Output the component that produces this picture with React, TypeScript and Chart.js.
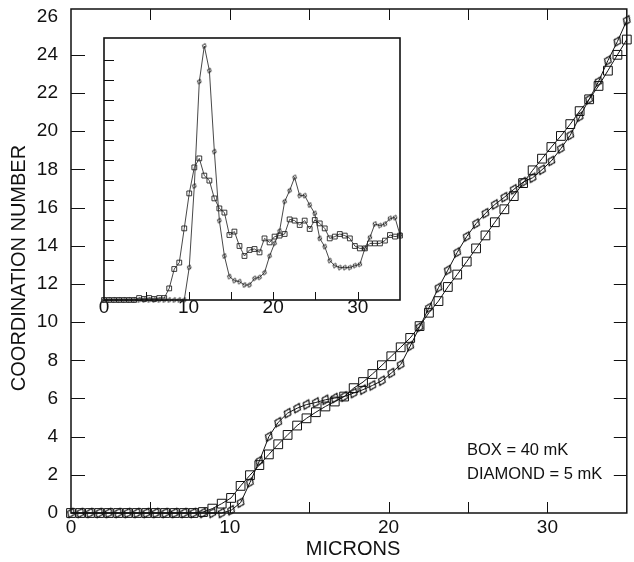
import React, { useEffect, useRef } from "react";
import { Chart, registerables } from "chart.js";

Chart.register(...registerables);

// ---------------- data ----------------
const X_MICRONS = [
  0, 0.59, 1.19, 1.78, 2.37, 2.97, 3.56, 4.15, 4.75, 5.34,
  5.93, 6.53, 7.12, 7.71, 8.31, 8.9, 9.49, 10.08, 10.68, 11.27,
  11.86, 12.46, 13.05, 13.64, 14.24, 14.83, 15.42, 16.02, 16.61, 17.2,
  17.8, 18.39, 18.98, 19.58, 20.17, 20.76, 21.36, 21.95, 22.54, 23.14,
  23.73, 24.32, 24.92, 25.51, 26.1, 26.69, 27.29, 27.88, 28.47, 29.07,
  29.66, 30.25, 30.85, 31.44, 32.03, 32.63, 33.22, 33.81, 34.41, 35.0,
];

// main plot: coordination number
const BOX_40MK = [
  0, 0, 0, 0, 0, 0, 0, 0, 0, 0,
  0, 0, 0, 0, 0.05, 0.23, 0.49, 0.79, 1.42, 1.98,
  2.51, 3.07, 3.6, 4.09, 4.58, 4.96, 5.28, 5.58, 5.84, 6.1,
  6.54, 6.86, 7.28, 7.74, 8.21, 8.68, 9.17, 9.79, 10.49, 11.1,
  11.84, 12.49, 13.17, 13.86, 14.54, 15.23, 15.91, 16.6, 17.28, 17.95,
  18.56, 19.17, 19.75, 20.37, 21.05, 21.67, 22.37, 23.17, 24.0, 24.8,
];
const DIAMOND_5MK = [
  0, 0, 0, 0, 0, 0, 0, 0, 0, 0,
  0, 0, 0, 0, 0, 0, 0, 0.14, 0.54, 1.6,
  2.72, 4.0, 4.75, 5.23, 5.49, 5.68, 5.79, 5.93, 6.02, 6.1,
  6.28, 6.46, 6.68, 6.93, 7.33, 7.77, 8.74, 9.74, 10.75, 11.8,
  12.72, 13.65, 14.48, 15.16, 15.7, 16.16, 16.54, 16.95, 17.33, 17.56,
  17.98, 18.44, 19.09, 19.79, 20.75, 21.67, 22.6, 23.7, 24.7, 25.8,
];

// inset (arbitrary units, one tick per unit)
const INSET_BOX = [
  0, 0, 0, 0, 0, 0, 0, 0.1, 0.05, 0.1,
  0.05, 0.1, 0.1, 0.58, 1.55, 1.87, 3.58, 5.33, 6.63, 7.08,
  6.22, 5.97, 5.08, 4.58, 4.37, 3.25, 3.42, 2.7, 2.2, 2.5,
  2.55, 2.38, 3.08, 2.88, 3.17, 3.22, 3.3, 4.03, 3.97, 3.75,
  3.97, 3.55, 4.0, 3.83, 3.58, 3.08, 3.17, 3.3, 3.22, 3.08,
  2.7, 2.58, 2.58, 2.83, 2.83, 2.83, 2.97, 3.25, 3.17, 3.22,
];
const INSET_DIAMOND = [
  0, 0, 0, 0, 0, 0, 0, 0, 0, 0,
  0, 0, 0, 0, 0, 0, 0, 1.63, 5.7, 10.92,
  12.7, 11.47, 7.42, 3.97, 2.2, 1.17, 0.97, 0.92, 0.75, 0.75,
  1.08, 1.13, 1.37, 2.2, 2.83, 3.45, 4.92, 5.47, 6.13, 5.22,
  5.22, 4.75, 4.33, 3.08, 2.67, 1.97, 1.72, 1.62, 1.62, 1.62,
  1.72, 1.78, 2.58, 3.13, 3.8, 3.72, 3.8, 4.08, 4.12, 3.25,
];

const MAIN_Y_LABELS = [0, 2, 4, 6, 8, 10, 12, 14, 16, 18, 20, 22, 24, 26];
const MAIN_Y_MARKS = [2, 4, 6, 8, 10, 12, 14, 16, 18, 20, 22, 24];
const MAIN_X_LABELS = [0, 10, 20, 30];
const MAIN_X_MARKS = [5, 10, 15, 20, 25, 30];
const INSET_X_LABELS = [0, 10, 20, 30];
const INSET_X_MARKS = [5, 10, 15, 20, 25, 30];
const INSET_Y_MARKS = [1, 2, 3, 4, 5, 6, 7, 8, 9, 10, 11, 12];

const Y_TITLE = "COORDINATION NUMBER";
const X_TITLE = "MICRONS";
const LEGEND_BOX = "BOX = 40 mK";
const LEGEND_DIAMOND = "DIAMOND = 5 mK";

// ---------------- helpers ----------------
const FONT = "'Liberation Sans', Arial, Helvetica, sans-serif";
const INK = "#111";

function makeDiamond(hw: number, hh: number, lw: number, color: string) {
  const c = document.createElement("canvas");
  const w = Math.ceil(hw * 2 + lw * 2 + 2);
  const h = Math.ceil(hh * 2 + lw * 2 + 2);
  c.width = w;
  c.height = h;
  const g = c.getContext("2d")!;
  g.strokeStyle = color;
  g.lineWidth = lw;
  g.beginPath();
  g.moveTo(w / 2, h / 2 - hh);
  g.lineTo(w / 2 + hw, h / 2);
  g.lineTo(w / 2, h / 2 + hh);
  g.lineTo(w / 2 - hw, h / 2);
  g.closePath();
  g.stroke();
  return c;
}

const pts = (ys: number[]) => X_MICRONS.map((x, i) => ({ x, y: ys[i] }));

type FrameCfg = {
  lineWidth: number;
  bottomMarks: number[];
  bottomLen: number;
  topMarks?: number[];
  topLen?: number;
  leftMarks: number[];
  leftLen: number;
  rightMarks?: number[];
  rightLen?: number;
  texts?: (ctx: CanvasRenderingContext2D) => void;
};

function framePlugin(id: string, cfg: FrameCfg) {
  return {
    id,
    afterDraw(chart: any) {
      const { ctx, chartArea: a, scales } = chart;
      const xs = scales.x;
      const ys = scales.y;
      ctx.save();
      ctx.strokeStyle = INK;
      ctx.lineWidth = cfg.lineWidth;
      ctx.strokeRect(a.left, a.top, a.right - a.left, a.bottom - a.top);
      ctx.lineWidth = 1;
      ctx.beginPath();
      for (const v of cfg.bottomMarks) {
        const px = Math.round(xs.getPixelForValue(v)) + 0.5;
        ctx.moveTo(px, a.bottom);
        ctx.lineTo(px, a.bottom - cfg.bottomLen);
      }
      for (const v of cfg.topMarks || []) {
        const px = Math.round(xs.getPixelForValue(v)) + 0.5;
        ctx.moveTo(px, a.top);
        ctx.lineTo(px, a.top + (cfg.topLen || 0));
      }
      for (const v of cfg.leftMarks) {
        const py = Math.round(ys.getPixelForValue(v)) + 0.5;
        ctx.moveTo(a.left, py);
        ctx.lineTo(a.left + cfg.leftLen, py);
      }
      for (const v of cfg.rightMarks || []) {
        const py = Math.round(ys.getPixelForValue(v)) + 0.5;
        ctx.moveTo(a.right, py);
        ctx.lineTo(a.right - (cfg.rightLen || 0), py);
      }
      ctx.stroke();
      if (cfg.texts) cfg.texts(ctx);
      ctx.restore();
    },
  };
}

export default function App() {
  const mainRef = useRef<HTMLCanvasElement>(null);
  const insetRef = useRef<HTMLCanvasElement>(null);

  useEffect(() => {
    const diamondBig = makeDiamond(3.6, 5.2, 1.25, INK);
    const diamondSmall = makeDiamond(2.0, 2.6, 1, "#222");

    const mainTexts = (ctx: CanvasRenderingContext2D) => {
      ctx.fillStyle = INK;
      ctx.font = `20px ${FONT}`;
      ctx.textAlign = "center";
      ctx.textBaseline = "middle";
      ctx.fillText(X_TITLE, 353, 549);
      ctx.save();
      ctx.translate(19, 268);
      ctx.rotate(-Math.PI / 2);
      ctx.fillText(Y_TITLE, 0, 0);
      ctx.restore();
      ctx.textAlign = "left";
      ctx.font = `16.5px ${FONT}`;
      ctx.fillText(LEGEND_BOX, 467, 450);
      ctx.fillText(LEGEND_DIAMOND, 467, 474);
    };

    const main = new Chart(mainRef.current!, {
      type: "line",
      data: {
        datasets: [
          {
            label: LEGEND_BOX,
            data: pts(BOX_40MK),
            borderColor: INK,
            borderWidth: 1,
            pointStyle: "rect",
            pointRadius: 6.2,
            pointBorderColor: INK,
            pointBackgroundColor: "rgba(0,0,0,0)",
            pointBorderWidth: 1,
            tension: 0,
            clip: false as any,
          },
          {
            label: LEGEND_DIAMOND,
            data: pts(DIAMOND_5MK),
            borderColor: INK,
            borderWidth: 1,
            pointStyle: diamondBig as any,
            pointRotation: 25,
            pointRadius: 5,
            pointBorderColor: INK,
            pointBackgroundColor: "rgba(0,0,0,0)",
            tension: 0,
            clip: false as any,
          },
        ],
      },
      options: {
        responsive: false,
        animation: false,
        events: [],
        layout: { padding: { top: 9, right: 0, left: 0, bottom: 0 } },
        plugins: { legend: { display: false }, tooltip: { enabled: false } },
        scales: {
          x: {
            type: "linear",
            min: 0,
            max: 35,
            grid: { display: false },
            border: { display: false },
            afterBuildTicks: (s: any) => {
              s.ticks = MAIN_X_LABELS.map((v) => ({ value: v }));
            },
            afterFit: (s: any) => {
              s.height = 49;
              s.paddingLeft = 0;
              s.paddingRight = 0;
            },
            ticks: {
              color: INK,
              font: { family: FONT, size: 19 },
              padding: -5,
              maxRotation: 0,
              autoSkip: false,
            },
          },
          y: {
            type: "linear",
            min: 0,
            max: 26.4,
            grid: { display: false },
            border: { display: false },
            afterBuildTicks: (s: any) => {
              s.ticks = MAIN_Y_LABELS.map((v) => ({ value: v }));
            },
            afterFit: (s: any) => {
              s.width = 71;
              s.paddingTop = 0;
              s.paddingBottom = 0;
            },
            ticks: {
              color: INK,
              font: { family: FONT, size: 19 },
              padding: 5,
              autoSkip: false,
            },
          },
        },
      },
      plugins: [
        framePlugin("mainFrame", {
          lineWidth: 1.5,
          bottomMarks: MAIN_X_MARKS,
          bottomLen: 11,
          topMarks: MAIN_X_MARKS,
          topLen: 11,
          leftMarks: MAIN_Y_MARKS,
          leftLen: 14,
          rightMarks: MAIN_Y_MARKS,
          rightLen: 13,
          texts: mainTexts,
        }),
      ],
    });

    const inset = new Chart(insetRef.current!, {
      type: "line",
      data: {
        datasets: [
          {
            label: "box",
            data: pts(INSET_BOX),
            borderColor: "#333",
            borderWidth: 0.9,
            pointStyle: "rect",
            pointRadius: 3.4,
            pointBorderColor: "#222",
            pointBackgroundColor: "rgba(0,0,0,0)",
            pointBorderWidth: 0.9,
            tension: 0,
            clip: false as any,
          },
          {
            label: "diamond",
            data: pts(INSET_DIAMOND),
            borderColor: "#333",
            borderWidth: 0.9,
            pointStyle: diamondSmall as any,
            pointRotation: 20,
            pointRadius: 3,
            tension: 0,
            clip: false as any,
          },
        ],
      },
      options: {
        responsive: false,
        animation: false,
        events: [],
        layout: { padding: { top: 10, right: 20, left: 16, bottom: 0 } },
        plugins: { legend: { display: false }, tooltip: { enabled: false } },
        scales: {
          x: {
            type: "linear",
            min: 0,
            max: 35,
            grid: { display: false },
            border: { display: false },
            afterBuildTicks: (s: any) => {
              s.ticks = INSET_X_LABELS.map((v) => ({ value: v }));
            },
            afterFit: (s: any) => {
              s.height = 28;
              s.paddingLeft = 0;
              s.paddingRight = 0;
            },
            ticks: {
              color: INK,
              font: { family: FONT, size: 19 },
              padding: -12,
              maxRotation: 0,
              autoSkip: false,
            },
          },
          y: {
            type: "linear",
            min: 0,
            max: 13.1,
            display: false,
          },
        },
      },
      plugins: [
        framePlugin("insetFrame", {
          lineWidth: 1.6,
          bottomMarks: INSET_X_MARKS,
          bottomLen: 8,
          leftMarks: INSET_Y_MARKS,
          leftLen: 10,
        }),
      ],
    });

    return () => {
      main.destroy();
      inset.destroy();
    };
  }, []);

  return (
    <div
      style={{
        position: "absolute",
        left: 0,
        top: 0,
        width: 634,
        height: 562,
        background: "#fff",
        overflow: "hidden",
      }}
    >
      <canvas ref={mainRef} width={634} height={562} style={{ position: "absolute", left: 0, top: 0 }} />
      <canvas ref={insetRef} width={332} height={300} style={{ position: "absolute", left: 88, top: 28 }} />
    </div>
  );
}
